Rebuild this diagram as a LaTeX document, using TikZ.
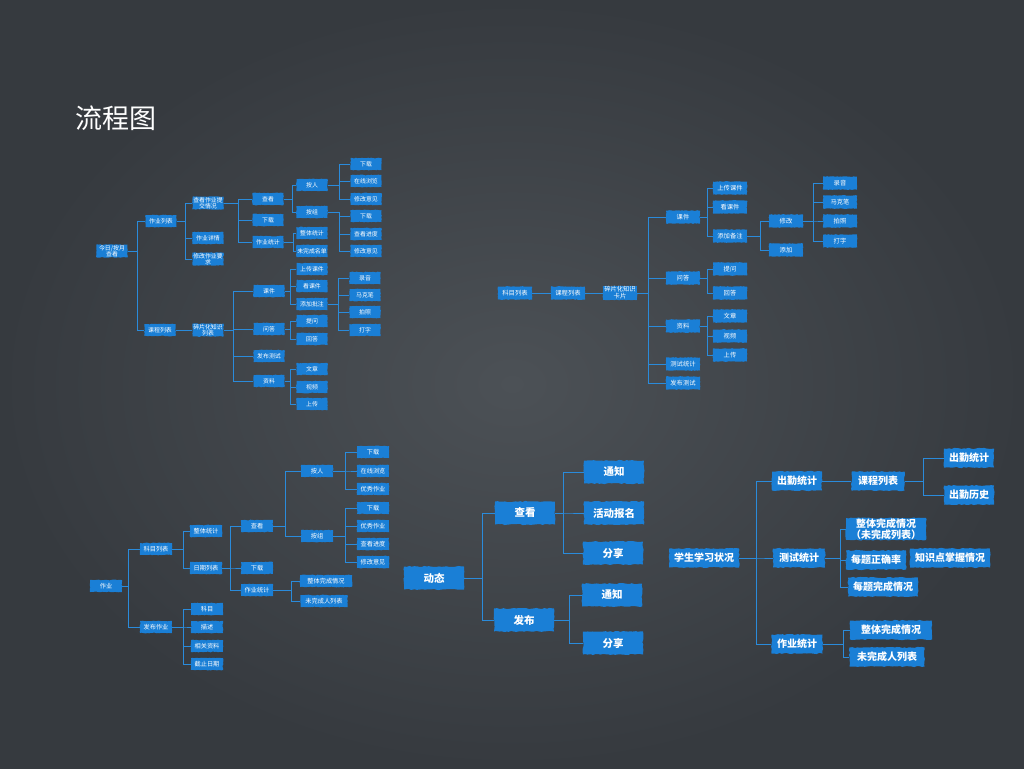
\documentclass[tikz,border=0pt]{standalone}
\usepackage{fontspec}
\usetikzlibrary{decorations.pathmorphing}
\newfontfamily\cjk{Noto Sans CJK SC}
\definecolor{boardlight}{HTML}{4C5156}
\definecolor{boarddark}{HTML}{363A3F}
\definecolor{chalkblue}{HTML}{1A7FD6}
\definecolor{lineblue}{HTML}{2A8BDB}
\tikzset{
  box/.style={fill=chalkblue, text=white, inner sep=0.6pt, align=center, decorate, decoration={random steps, segment length=1.5pt, amplitude=0.35pt}},
  tiny/.style={box, minimum width=31, minimum height=12, font=\cjk\fontsize{5.9}{6.2}\selectfont},
  small/.style={box, minimum width=34, minimum height=13, font=\cjk\fontsize{6.3}{6.8}\selectfont},
  low/.style={box, minimum width=32, minimum height=12, font=\cjk\fontsize{6.2}{6.6}\selectfont},
  big/.style={box, minimum width=60, minimum height=23, font=\cjk\bfseries\fontsize{10.5}{11}\selectfont, decoration={random steps, segment length=2.5pt, amplitude=0.6pt}},
  mid/.style={box, inner xsep=5pt, minimum height=19, font=\cjk\bfseries\fontsize{10}{10.5}\selectfont, decoration={random steps, segment length=2.5pt, amplitude=0.6pt}},
  link/.style={draw=lineblue, line width=0.8pt},
  thick link/.style={draw=lineblue, line width=1pt}
}
\begin{document}
\begin{tikzpicture}[x=1pt, y=-1pt]
  \shade [inner color=boardlight, outer color=boarddark] (0,0) rectangle (1024,768);
  \node [text=white!92, font=\cjk\fontsize{27}{30}\selectfont] (title) at (116,118) {流程图};

  % top left
  \node [tiny] (a0) at (112,251) {今日/按月\\查看};
  \node [tiny] (a1) at (161,221) {作业列表};
  \node [tiny] (a2) at (160,330) {课程列表};
  \node [tiny] (a11) at (208,203) {查看作业提\\交情况};
  \node [tiny] (a12) at (208,238) {作业详情};
  \node [tiny] (a13) at (208,259) {修改作业要\\求};
  \node [tiny] (a21) at (208,330) {碎片化知识\\列表};
  \node [tiny] (a111) at (268,199) {查看};
  \node [tiny] (a112) at (268,220) {下载};
  \node [tiny] (a113) at (268,242) {作业统计};
  \node [tiny] (a211) at (269,291) {课件};
  \node [tiny] (a212) at (269,329) {问答};
  \node [tiny] (a213) at (269,356) {发布测试};
  \node [tiny] (a214) at (269,381) {资料};
  \node [tiny] (a1111) at (312,185) {按人};
  \node [tiny] (a1112) at (312,212) {按组};
  \node [tiny] (a1131) at (312,233) {整体统计};
  \node [tiny] (a1132) at (312,251) {未完成名单};
  \node [tiny] (a2111) at (312,269) {上传课件};
  \node [tiny] (a2112) at (312,286) {看课件};
  \node [tiny] (a2113) at (312,304) {添加批注};
  \node [tiny] (a2121) at (312,321) {提问};
  \node [tiny] (a2122) at (312,339) {回答};
  \node [tiny] (a2141) at (312,369) {文章};
  \node [tiny] (a2142) at (312,387) {视频};
  \node [tiny] (a2143) at (312,404) {上传};
  \node [tiny] (p1) at (366,164) {下载};
  \node [tiny] (p2) at (366,181) {在线浏览};
  \node [tiny] (p3) at (366,199) {修改意见};
  \node [tiny] (g1) at (366,216) {下载};
  \node [tiny] (g2) at (366,234) {查看进度};
  \node [tiny] (g3) at (366,251) {修改意见};
  \node [tiny] (n1) at (365,278) {录音};
  \node [tiny] (n2) at (365,295) {马克笔};
  \node [tiny] (n3) at (365,312) {拍照};
  \node [tiny] (n4) at (365,330) {打字};

  \draw [link] (a0.east) -- ++(9.5,0) |- (a1.west) (a0.east) -- ++(9.5,0) |- (a2.west);
  \draw [link] (a1.east) -- ++(8.5,0) |- (a11.west) (a1.east) -- ++(8.5,0) |- (a12.west) (a1.east) -- ++(8.5,0) |- (a13.west);
  \draw [link] (a2.east) -- (a21.west);
  \draw [link] (a11.east) -- ++(15,0) |- (a111.west) (a11.east) -- ++(15,0) |- (a112.west) (a11.east) -- ++(15,0) |- (a113.west);
  \draw [link] (a21.east) -- ++(10,0) |- (a211.west) (a21.east) -- ++(10,0) |- (a212.west) (a21.east) -- ++(10,0) |- (a213.west) (a21.east) -- ++(10,0) |- (a214.west);
  \draw [link] (a111.east) -- ++(8.5,0) |- (a1111.west) (a111.east) -- ++(8.5,0) |- (a1112.west);
  \draw [link] (a113.east) -- ++(9.5,0) |- (a1131.west) (a113.east) -- ++(9.5,0) |- (a1132.west);
  \draw [link] (a211.east) -- ++(6,0) |- (a2111.west) (a211.east) -- ++(6,0) |- (a2112.west) (a211.east) -- ++(6,0) |- (a2113.west);
  \draw [link] (a212.east) -- ++(6,0) |- (a2121.west) (a212.east) -- ++(6,0) |- (a2122.west);
  \draw [link] (a214.east) -- ++(6,0) |- (a2141.west) (a214.east) -- ++(6,0) |- (a2142.west) (a214.east) -- ++(6,0) |- (a2143.west);
  \draw [link] (a1111.east) -- ++(11.5,0) |- (p1.west) (a1111.east) -- ++(11.5,0) |- (p2.west) (a1111.east) -- ++(11.5,0) |- (p3.west);
  \draw [link] (a1112.east) -- ++(11.5,0) |- (g1.west) (a1112.east) -- ++(11.5,0) |- (g2.west) (a1112.east) -- ++(11.5,0) |- (g3.west);
  \draw [link] (a2113.east) -- ++(10.5,0) |- (n1.west) (a2113.east) -- ++(10.5,0) |- (n2.west) (a2113.east) -- ++(10.5,0) |- (n3.west) (a2113.east) -- ++(10.5,0) |- (n4.west);

  % top right
  \node [small] (b0) at (515,293) {科目列表};
  \node [small] (b1) at (568,293) {课程列表};
  \node [small] (b2) at (620,293) {碎片化知识\\卡片};
  \node [small] (b3) at (683,217) {课件};
  \node [small] (b4) at (683,278) {问答};
  \node [small] (b5) at (683,326) {资料};
  \node [small] (b6) at (683,364) {测试统计};
  \node [small] (b7) at (683,383) {发布测试};
  \node [small] (b31) at (730,188) {上传课件};
  \node [small] (b32) at (730,207) {看课件};
  \node [small] (b33) at (730,236) {添加备注};
  \node [small] (b41) at (730,269) {提问};
  \node [small] (b42) at (730,293) {回答};
  \node [small] (b51) at (730,316) {文章};
  \node [small] (b52) at (730,336) {视频};
  \node [small] (b53) at (730,355) {上传};
  \node [small] (b331) at (786,221) {修改};
  \node [small] (b332) at (786,250) {添加};
  \node [small] (m1) at (840,183) {录音};
  \node [small] (m2) at (840,202) {马克笔};
  \node [small] (m3) at (840,221) {拍照};
  \node [small] (m4) at (840,241) {打字};

  \draw [link] (b0.east) -- (b1.west) (b1.east) -- (b2.west);
  \draw [link] (b2.east) -- ++(11,0) |- (b3.west) (b2.east) -- ++(11,0) |- (b4.west) (b2.east) -- ++(11,0) |- (b5.west) (b2.east) -- ++(11,0) |- (b6.west) (b2.east) -- ++(11,0) |- (b7.west);
  \draw [link] (b3.east) -- ++(7,0) |- (b31.west) (b3.east) -- ++(7,0) |- (b32.west) (b3.east) -- ++(7,0) |- (b33.west);
  \draw [link] (b4.east) -- ++(7,0) |- (b41.west) (b4.east) -- ++(7,0) |- (b42.west);
  \draw [link] (b5.east) -- ++(7,0) |- (b51.west) (b5.east) -- ++(7,0) |- (b52.west) (b5.east) -- ++(7,0) |- (b53.west);
  \draw [link] (b33.east) -- ++(13,0) |- (b331.west) (b33.east) -- ++(13,0) |- (b332.west);
  \draw [link] (b331.east) -- ++(10,0) |- (m1.west) (b331.east) -- ++(10,0) |- (m2.west) (b331.east) -- ++(10,0) |- (m3.west) (b331.east) -- ++(10,0) |- (m4.west);

  % bottom left
  \node [low] (c0) at (106,586) {作业};
  \node [low] (c1) at (156,549) {科目列表};
  \node [low] (c2) at (156,627) {发布作业};
  \node [low] (c11) at (206,531) {整体统计};
  \node [low] (c12) at (206,568) {日期列表};
  \node [low] (c21) at (207,609) {科目};
  \node [low] (c22) at (207,627) {描述};
  \node [low] (c23) at (207,646) {相关资料};
  \node [low] (c24) at (207,664) {截止日期};
  \node [low] (c121) at (257,526) {查看};
  \node [low] (c122) at (257,568) {下载};
  \node [low] (c123) at (257,590) {作业统计};
  \node [low] (c1211) at (317,471) {按人};
  \node [low] (c1212) at (317,536) {按组};
  \node [low, minimum width=52] (c1231) at (326,581) {整体完成情况};
  \node [low, minimum width=47] (c1232) at (324,601) {未完成人列表};
  \node [low] (q1) at (373,452) {下载};
  \node [low] (q2) at (373,471) {在线浏览};
  \node [low] (q3) at (373,489) {优秀作业};
  \node [low] (r1) at (373,508) {下载};
  \node [low] (r2) at (373,526) {优秀作业};
  \node [low] (r3) at (373,544) {查看进度};
  \node [low] (r4) at (373,562) {修改意见};

  \draw [link] (c0.east) -- ++(6,0) |- (c1.west) (c0.east) -- ++(6,0) |- (c2.west);
  \draw [link] (c1.east) -- ++(11,0) |- (c11.west) (c1.east) -- ++(11,0) |- (c12.west);
  \draw [link] (c2.east) -- ++(11,0) |- (c21.west) (c2.east) -- ++(11,0) |- (c22.west) (c2.east) -- ++(11,0) |- (c23.west) (c2.east) -- ++(11,0) |- (c24.west);
  \draw [link] (c12.east) -- ++(8,0) |- (c121.west) (c12.east) -- ++(8,0) |- (c122.west) (c12.east) -- ++(8,0) |- (c123.west);
  \draw [link] (c121.east) -- ++(12,0) |- (c1211.west) (c121.east) -- ++(12,0) |- (c1212.west);
  \draw [link] (c123.east) -- ++(18,0) |- (c1231.west) (c123.east) -- ++(18,0) |- (c1232.west);
  \draw [link] (c1211.east) -- ++(12,0) |- (q1.west) (c1211.east) -- ++(12,0) |- (q2.west) (c1211.east) -- ++(12,0) |- (q3.west);
  \draw [link] (c1212.east) -- ++(12,0) |- (r1.west) (c1212.east) -- ++(12,0) |- (r2.west) (c1212.east) -- ++(12,0) |- (r3.west) (c1212.east) -- ++(12,0) |- (r4.west);

  % bottom middle
  \node [big] (d0) at (434,578) {动态};
  \node [big] (d1) at (525,513) {查看};
  \node [big] (d2) at (524,620) {发布};
  \node [big] (d11) at (614,472) {通知};
  \node [big] (d12) at (614,513) {活动报名};
  \node [big] (d13) at (613,553) {分享};
  \node [big] (d21) at (612,595) {通知};
  \node [big] (d22) at (613,643) {分享};

  \draw [thick link] (d0.east) -- ++(18,0) |- (d1.west) (d0.east) -- ++(18,0) |- (d2.west);
  \draw [thick link] (d1.east) -- ++(8,0) |- (d11.west) (d1.east) -- ++(8,0) |- (d12.west) (d1.east) -- ++(8,0) |- (d13.west);
  \draw [thick link] (d2.east) -- ++(15,0) |- (d21.west) (d2.east) -- ++(15,0) |- (d22.west);

  % bottom right
  \node [mid, minimum width=66] (e0) at (704,558) {学生学习状况};
  \node [mid, minimum width=50] (e1) at (797,481) {出勤统计};
  \node [mid, minimum width=52] (e2) at (799,558) {测试统计};
  \node [mid, minimum width=51] (e3) at (797,644) {作业统计};
  \node [mid, minimum width=53] (e11) at (878,481) {课程列表};
  \node [mid, minimum width=48] (e111) at (969,458) {出勤统计};
  \node [mid, minimum width=48] (e112) at (969,495) {出勤历史};
  \node [mid, minimum width=74, minimum height=22] (e21) at (886,529) {整体完成情况\\（未完成列表）};
  \node [mid, minimum width=54] (e22) at (876,560) {每题正确率};
  \node [mid, minimum width=70] (e23) at (950,558) {知识点掌握情况};
  \node [mid, minimum width=67] (e24) at (883,587) {每题完成情况};
  \node [mid, minimum width=82] (e31) at (891,630) {整体完成情况};
  \node [mid, minimum width=75] (e32) at (887,657) {未完成人列表};

  \draw [thick link] (e0.east) -- ++(17,0) |- (e1.west) (e0.east) -- ++(17,0) |- (e2.west) (e0.east) -- ++(17,0) |- (e3.west);
  \draw [thick link] (e1.east) -- (e11.west);
  \draw [thick link] (e11.east) -- ++(18.5,0) |- (e111.west) (e11.east) -- ++(18.5,0) |- (e112.west);
  \draw [thick link] (e2.east) -- ++(15,0) |- (e21.west) (e2.east) -- ++(15,0) |- (e22.west) (e2.east) -- ++(15,0) |- (e24.west);
  \draw [thick link] (e3.east) -- ++(20.5,0) |- (e31.west) (e3.east) -- ++(20.5,0) |- (e32.west);
\end{tikzpicture}
\end{document}
